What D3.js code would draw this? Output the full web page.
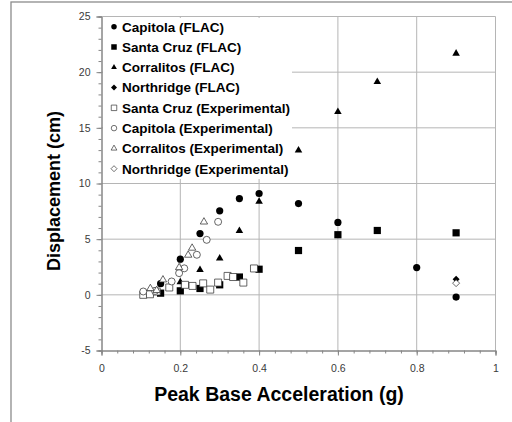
<!DOCTYPE html>
<html>
<head>
<meta charset="utf-8">
<style>
  body { margin: 0; background: #fff; }
  svg { display: block; }
  text { font-family: "Liberation Sans", Arial, sans-serif; }
</style>
</head>
<body>
<svg id="chart" width="512" height="422"></svg>
<script src="https://d3js.org/d3.v7.min.js"></script>
<script>
// values: [peak base acceleration (g), displacement (cm)]
const capitolaFLAC = [[0.15, 1.0], [0.2, 3.2], [0.25, 5.5], [0.3, 7.55], [0.35, 8.65], [0.4, 9.1], [0.5, 8.2], [0.6, 6.5], [0.8, 2.45], [0.9, -0.2]];
const santaCruzFLAC = [[0.15, 0.15], [0.2, 0.36], [0.25, 0.57], [0.3, 0.9], [0.35, 1.6], [0.4, 2.3], [0.5, 3.98], [0.6, 5.4], [0.7, 5.78], [0.9, 5.57]];
const corralitosFLAC = [[0.2, 1.14], [0.25, 2.25], [0.3, 3.27], [0.35, 5.75], [0.4, 8.38], [0.5, 12.97], [0.6, 16.44], [0.7, 19.13], [0.9, 21.68]];
const northridgeFLAC = [[0.9, 1.41]];
const santaCruzExp = [[0.106, 0.0], [0.123, 0.05], [0.14, 0.3], [0.172, 0.66], [0.212, 0.9], [0.231, 0.8], [0.258, 1.03], [0.276, 0.47], [0.296, 1.1], [0.32, 1.7], [0.334, 1.6], [0.36, 1.1], [0.387, 2.37]];
const capitolaExp = [[0.106, 0.3], [0.136, 0.35], [0.178, 1.2], [0.197, 1.95], [0.21, 2.38], [0.242, 3.6], [0.267, 4.94], [0.296, 6.56]];
const corralitosExp = [[0.124, 0.57], [0.14, 0.4], [0.156, 1.35], [0.197, 2.45], [0.22, 3.57], [0.23, 4.2], [0.26, 6.55]];
const northridgeExp = [[0.9, 1.05]];

const xTicks = [0, 0.2, 0.4, 0.6, 0.8, 1];
const yTicks = [-5, 0, 5, 10, 15, 20, 25];

const series = [
  { name: "Capitola (FLAC)", data: capitolaFLAC, shape: "circle", open: false },
  { name: "Santa Cruz (FLAC)", data: santaCruzFLAC, shape: "square", open: false },
  { name: "Corralitos (FLAC)", data: corralitosFLAC, shape: "triangle", open: false },
  { name: "Northridge (FLAC)", data: northridgeFLAC, shape: "diamond", open: false },
  { name: "Santa Cruz (Experimental)", data: santaCruzExp, shape: "square", open: true },
  { name: "Capitola (Experimental)", data: capitolaExp, shape: "circle", open: true },
  { name: "Corralitos (Experimental)", data: corralitosExp, shape: "triangle", open: true },
  { name: "Northridge (Experimental)", data: northridgeExp, shape: "diamond", open: true }
];

const svg = d3.select("#chart");

// chart area frame (only left and top edges show)
svg.append("rect")
  .attr("x", 11).attr("y", 2)
  .attr("width", 540).attr("height", 460)
  .attr("fill", "none").attr("stroke", "#8c8c8c").attr("stroke-width", 1.3);

const x = d3.scaleLinear().domain([0, 1]).range([101.5, 495.5]);
const y = d3.scaleLinear().domain([-5, 25]).range([350.5, 16.5]);

// gridlines
const grid = svg.append("g").attr("stroke", "#b5b5b5").attr("stroke-width", 1);
grid.selectAll(".gy").data(yTicks.slice(1)).enter().append("line")
  .attr("x1", x(0)).attr("x2", x(1))
  .attr("y1", d => y(d)).attr("y2", d => y(d));
grid.selectAll(".gx").data(xTicks.slice(1)).enter().append("line")
  .attr("x1", d => x(d)).attr("x2", d => x(d))
  .attr("y1", y(-5)).attr("y2", y(25));

// axes
const xMinor = d3.range(0, 1.0001, 0.04);
const yMinor = d3.range(-5, 25.0001, 1);

const xAxisMinor = d3.axisBottom(x).tickValues(xMinor).tickSize(3).tickFormat("");
const xAxis = d3.axisBottom(x).tickValues(xTicks).tickSize(5).tickPadding(9)
  .tickFormat(d => d3.format("")(d));
const yAxisMinor = d3.axisLeft(y).tickValues(yMinor).tickSize(3).tickFormat("");
const yAxis = d3.axisLeft(y).tickValues(yTicks).tickSize(5).tickPadding(6)
  .tickFormat(d => d);

function styleAxis(g) {
  g.select(".domain").attr("stroke", "#868686");
  g.selectAll(".tick line").attr("stroke", "#868686");
  g.selectAll(".tick text").attr("fill", "#3a3a3a")
    .style("font-size", "10.5px").style("font-family", "Liberation Sans, Arial, sans-serif");
}

svg.append("g").attr("transform", `translate(0,${y(-5)})`).call(xAxisMinor).call(styleAxis);
svg.append("g").attr("transform", `translate(0,${y(-5)})`).call(xAxis).call(styleAxis);
svg.append("g").attr("transform", `translate(${x(0)},0)`).call(yAxisMinor).call(styleAxis);
svg.append("g").attr("transform", `translate(${x(0)},0)`).call(yAxis).call(styleAxis);

// axis titles
svg.append("text")
  .attr("x", 279).attr("y", 401)
  .attr("text-anchor", "middle")
  .style("font-size", "19.5px").style("font-weight", "bold")
  .text("Peak Base Acceleration  (g)");

svg.append("text")
  .attr("transform", "translate(60,191) rotate(-90)")
  .attr("text-anchor", "middle")
  .style("font-size", "18px").style("font-weight", "bold")
  .text("Displacement  (cm)");

// marker shapes
function markerPath(shape, s) {
  if (shape === "circle") return d3.symbol(d3.symbolCircle, Math.PI * s * s / 4)();
  if (shape === "square") return d3.symbol(d3.symbolSquare, s * s)();
  if (shape === "triangle") return d3.symbol(d3.symbolTriangle, Math.sqrt(3) / 4 * s * s * 1.1)();
  // diamond: rotated square
  const h = s / 2;
  return `M0,${-h}L${h},0L0,${h}L${-h},0Z`;
}

// legend
const legend = svg.append("g");
legend.append("rect")
  .attr("x", 103).attr("y", 18)
  .attr("width", 189).attr("height", 161)
  .attr("fill", "#fff");

const rowY = d3.scaleLinear().domain([0, 7]).range([26.7, 168.7]);
series.forEach((s, i) => {
  const cy = rowY(i);
  legend.append("path")
    .attr("d", markerPath(s.shape, s.shape === "diamond" ? 6 : 5.5))
    .attr("transform", `translate(114,${cy})`)
    .attr("fill", s.open ? "#fff" : "#000")
    .attr("stroke", s.open ? "#333" : "none")
    .attr("stroke-width", 0.7);
  legend.append("text")
    .attr("x", 122).attr("y", cy + 4.8)
    .style("font-size", "13.5px").style("font-weight", "bold")
    .text(s.name);
});

// data points
series.forEach(s => {
  const size = s.open ? 7 : (s.shape === "diamond" ? 7 : 7.2);
  svg.append("g").selectAll("path")
    .data(s.data).enter().append("path")
    .attr("d", markerPath(s.shape, size))
    .attr("transform", d => `translate(${x(d[0])},${y(d[1])})`)
    .attr("fill", s.open ? "#fff" : "#000")
    .attr("stroke", s.open ? "#333" : "none")
    .attr("stroke-width", 0.75);
});
</script>
</body>
</html>
